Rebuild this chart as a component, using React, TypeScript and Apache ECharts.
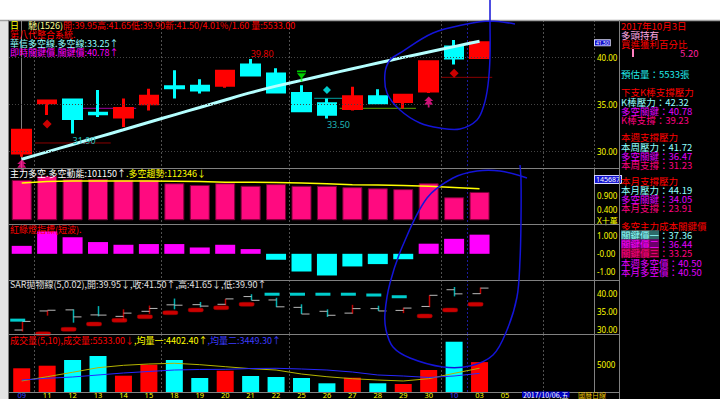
import React, { useEffect, useRef } from 'react';
import * as echarts from 'echarts';

// ---------------- data ----------------
const dates = ['09', '11', '12', '13', '14', '15', '18', '19', '20', '21', '22', '25', '26', '27', '28', '29', '30', '10', '03', '05', '', '', ''];
const openPrice = [29.85, 35.15, 35.45, 34.05, 33.65, 35.05, 36.85, 36.9, 37.0, 39.15, 38.2, 36.15, 35.05, 34.55, 35.8, 35.3, 36.4, 41.05, 39.95];
const closePrice = [32.25, 35.35, 33.5, 34.0, 34.55, 35.85, 36.75, 36.5, 38.5, 38.1, 36.3, 34.3, 33.95, 35.8, 35.15, 35.95, 39.5, 39.9, 41.5];
const lowPrice = [29.45, 33.85, 31.9, 33.65, 32.6, 34.35, 35.6, 36.15, 36.75, 38.1, 36.2, 34.3, 33.5, 34.35, 35.15, 34.55, 36.2, 39.2, 39.9];
const highPrice = [32.25, 35.35, 35.6, 36.5, 35.6, 36.65, 38.6, 37.65, 38.5, 39.8, 38.8, 37.0, 35.6, 36.85, 36.6, 36.05, 39.5, 41.8, 41.65];
const longShortLine = [29.17, 29.96, 30.74, 31.52, 32.3, 33.09, 33.88, 34.66, 35.45, 36.23, 36.92, 37.53, 38.15, 38.76, 39.37, 39.96, 40.53, 41.1, 41.67];

const buyArrows = [[0, 28.57], [16, 35.24]];
const redDiamonds = [[1, 32.91], [17, 38.28]];
const greenTriangles = [[11, 37.99]];
const cyanDiamonds = [[12, 36.51]];
const supportRed1 = [[0.52, 30.9], [3.5, 30.9]];
const supportPurple = [[2.3, 34.57], [4.5, 34.57]];
const supportTeal = [[11.5, 35.63], [13.3, 35.63]];
const supportGreen = [[12.5, 34.57], [15.5, 34.57]];
const supportRed2 = [[16.5, 37.85], [18.5, 37.85]];
const lowLabels = [[2, 31.9], [12, 33.5]];
const highLabels = [[9, 39.8]];

const mainPowerBars = [1.44, 1.58, 1.47, 1.47, 1.44, 1.44, 1.32, 1.26, 1.32, 1.23, 1.29, 1.23, 1.23, 1.18, 1.14, 1.11, 1.32, 0.82, 1.01];
const mainTrendLine = [1.33, 1.38, 1.4, 1.4, 1.4, 1.4, 1.39, 1.38, 1.36, 1.36, 1.35, 1.33, 1.3, 1.27, 1.26, 1.24, 1.21, 1.17, 1.12];
const trendMarker = 1.45687;

const trafficLight = [0.44, 1.24, 0.91, 0.65, 0.5, 0.54, 0.54, 0.35, 0.5, 0.26, -0.33, -0.98, -1.2, -0.7, -0.57, -0.3, 0.56, 0.83, 1.06];

const sarValues = [32.6, 28.8, 30.05, 31.5, 32.55, 33.55, 34.67, 35.4, 36.05, 37.0, 39.8, 39.8, 39.8, 39.8, 39.58, 39.1, 33.75, 35.4, 37.0];
const sarRising = [false, true, true, true, true, true, true, true, true, true, false, false, false, false, false, false, true, true, true];

const volumes = [4390, 4870, 5930, 6670, 3020, 5060, 5930, 2590, 3940, 2960, 2780, 2590, 1610, 2650, 1610, 1480, 4070, 9310, 5533];
const volMa5 = [2040, 2830, 3650, 4500, 4940, 5190, 5320, 5060, 4690, 4320, 4070, 3330, 2830, 2460, 2220, 2040, 2460, 3460, 4402];
const volMa10 = [2220, 2540, 2780, 3150, 3520, 3800, 4070, 4170, 4200, 4350, 4390, 4260, 4070, 3700, 3150, 2960, 2690, 2960, 3449];

const priceTicks = [30, 35, 40];
const powerTicks = [0, 0.4, 0.9];
const lightTicks = [-1, 0, 1];
const volumeTicks = [5000];
const lastClose = 41.5;
const weekBreaks = [1, 6, 11, 17, 18, 21];

// ---------------- helpers ----------------
const FONT = '"Noto Sans CJK TC", "Noto Sans", sans-serif';
const AX_FONT = '"Noto Sans", "Noto Sans CJK TC", sans-serif';
const near = (a: number, b: number) => Math.abs(a - b) < 1e-6;
const GL = 9;
const GW = 585;

const txt = (x: number, y: number, text: string, fill: string, size = 9, extra: any = {}) => ({
  type: 'text',
  x,
  y,
  z: 100,
  silent: true,
  style: { text, fill, fontSize: size, lineHeight: 9, fontFamily: FONT, verticalAlign: 'middle', align: 'left', ...extra },
});

const rich = (x: number, y: number, text: string, parts: Record<string, any>, size = 9) => {
  const r: Record<string, any> = {};
  Object.keys(parts).forEach((k) => {
    r[k] = { fontSize: size, lineHeight: 9, fontFamily: FONT, ...parts[k] };
  });
  return {
    type: 'text',
    x,
    y,
    z: 100,
    silent: true,
    style: { text, fontSize: size, lineHeight: 9, fontFamily: FONT, verticalAlign: 'middle', align: 'left', rich: r },
  };
};

const hline = (x1: number, x2: number, y: number, stroke = '#808080', w = 1) => ({
  type: 'line',
  z: 90,
  silent: true,
  shape: { x1, y1: y, x2, y2: y },
  style: { stroke, lineWidth: w },
});
const vline = (x: number, y1: number, y2: number, stroke = '#808080', w = 1) => ({
  type: 'line',
  z: 90,
  silent: true,
  shape: { x1: x, y1, x2: x, y2 },
  style: { stroke, lineWidth: w },
});

export default function App() {
  const ref = useRef<HTMLDivElement>(null);

  useEffect(() => {
    const chart = echarts.init(ref.current!, null, { renderer: 'svg' });

    const gridLineColors = weekBreaks.map((b) => (b === 18 ? '#1c1c9a' : '#505050'));
    const mkX = (gi: number) => ({
      type: 'category',
      gridIndex: gi,
      data: dates,
      boundaryGap: true,
      axisLine: { show: gi === 4, onZero: false, lineStyle: { color: '#808080' } },
      axisTick: { show: false },
      axisLabel:
        gi === 4
          ? {
              show: true,
              interval: 0,
              margin: 0,
              fontSize: 7.5,
              lineHeight: 5,
              fontFamily: AX_FONT,
              color: (v: string) => (v === '09' || v === '10' ? '#3c3cff' : '#ffff00'),
            }
          : { show: false },
      splitLine: {
        show: true,
        interval: (i: number) => weekBreaks.indexOf(i) >= 0,
        lineStyle: { color: gridLineColors, type: [2, 2], width: 1 },
      },
    });

    const mkY = (gi: number, min: number, max: number, ticks: number[], fmt: (v: number) => string) => ({
      type: 'value',
      gridIndex: gi,
      position: 'right',
      min,
      max,
      axisLine: { show: true, lineStyle: { color: '#808080' } },
      axisTick: { show: false },
      splitLine: { show: false },
      axisLabel: {
        show: true,
        customValues: ticks,
        margin: 3,
        fontSize: 8,
        fontFamily: AX_FONT,
        color: '#ffff00',
        formatter: (v: number) => (ticks.some((t) => near(t, v)) ? fmt(v) : ''),
      },
    });

    const mkMarkerY = (gi: number, min: number, max: number, value: number, text: string, size: number) => ({
      type: 'value',
      gridIndex: gi,
      position: 'right',
      min,
      max,
      axisLine: { show: false },
      axisTick: { show: false },
      splitLine: { show: false },
      axisLabel: {
        show: true,
        customValues: [value],
        margin: 1,
        fontSize: size,
        lineHeight: size,
        fontFamily: AX_FONT,
        color: '#ffffff',
        backgroundColor: '#1010d0',
        borderColor: '#d8d8ff',
        borderWidth: 1,
        padding: [0, 1],
        formatter: (v: number) => (near(v, value) ? text : ''),
      },
    });

    const candleData = openPrice.map((o, i) => [o, closePrice[i], lowPrice[i], highPrice[i]]);
    const ohlcData = openPrice.map((o, i) => [i, o, closePrice[i], lowPrice[i], highPrice[i]]);
    const sarUpData = sarValues.map((v, i) => (sarRising[i] ? [i, v] : null)).filter(Boolean);
    const sarDownData = sarValues.map((v, i) => (!sarRising[i] ? [i, v] : null)).filter(Boolean);
    const upColor = (i: number) => closePrice[i] >= openPrice[i];

    const hiddenLine = (data: number[][], color: string, extra: any = {}) => ({
      type: 'line',
      xAxisIndex: 5,
      yAxisIndex: 0,
      data,
      symbol: 'none',
      silent: true,
      lineStyle: { color, width: 1 },
      z: 1,
      ...extra,
    });

    const option: any = {
      animation: false,
      backgroundColor: '#000000',
      grid: [
        { left: GL, width: GW, top: 20, height: 148 },
        { left: GL, width: GW, top: 168, height: 56 },
        { left: GL, width: GW, top: 224, height: 56 },
        { left: GL, width: GW, top: 280, height: 54 },
        { left: GL, width: GW, top: 334, height: 58 },
      ],
      xAxis: [mkX(0), mkX(1), mkX(2), mkX(3), mkX(4), { type: 'value', gridIndex: 0, min: -0.5, max: 22.5, show: false }],
      yAxis: [
        mkY(0, 28.25, 43.92, priceTicks, (v) => v.toFixed(2)),
        mkY(1, -0.135, 1.865, powerTicks, (v) => (near(v, 0) ? 'X十萬' : v.toFixed(3))),
        mkY(2, -1.45, 1.65, lightTicks, (v) => (near(v, 1) ? '1.000' : near(v, 0) ? '-0.00' : '-1.00')),
        mkY(3, 28.75, 43.75, priceTicks, (v) => v.toFixed(2)),
        mkY(4, 0, 10740, volumeTicks, (v) => String(v)),
        mkMarkerY(0, 28.25, 43.92, lastClose, lastClose.toFixed(2), 5),
        mkMarkerY(1, -0.135, 1.865, trendMarker, String(Math.round(trendMarker * 100000)), 7),
      ],
      series: [
        hiddenLine(supportRed1, '#8a0000', {
          markLine: {
            silent: true,
            symbol: ['none', 'none'],
            label: { show: false },
            lineStyle: { color: '#444444', type: [1, 2], width: 1 },
            data: priceTicks.map((v) => ({ yAxis: v })),
          },
        }),
        hiddenLine(supportPurple, '#a000a0'),
        hiddenLine(supportTeal, '#00a0a0'),
        hiddenLine(supportGreen, '#60a000'),
        hiddenLine(supportRed2, '#8a0000'),
        {
          type: 'candlestick',
          xAxisIndex: 0,
          yAxisIndex: 0,
          barWidth: 18,
          data: candleData,
          itemStyle: {
            color: '#ff0000',
            color0: '#00ffff',
            borderColor: '#ff0000',
            borderColor0: '#00ffff',
            borderWidth: 3,
          },
          markPoint: {
            silent: true,
            symbol: 'circle',
            symbolSize: 1,
            itemStyle: { color: 'rgba(0,0,0,0)' },
            data: [
              ...lowLabels.map((p) => ({
                coord: p,
                label: {
                  show: true,
                  position: 'inside',
                  formatter: p[1].toFixed(2),
                  color: '#20b8b8',
                  fontSize: 9,
                  fontFamily: AX_FONT,
                  align: 'left',
                  verticalAlign: 'top',
                  offset: [0, 2],
                },
              })),
              ...highLabels.map((p) => ({
                coord: p,
                label: {
                  show: true,
                  position: 'inside',
                  formatter: p[1].toFixed(2),
                  color: '#e00000',
                  fontSize: 9,
                  fontFamily: AX_FONT,
                  align: 'left',
                  verticalAlign: 'bottom',
                  offset: [0, -1],
                },
              })),
            ],
          },
        },
        {
          type: 'line',
          xAxisIndex: 0,
          yAxisIndex: 0,
          data: longShortLine,
          symbol: 'none',
          smooth: 0.2,
          silent: true,
          lineStyle: { color: '#b4ffff', width: 3 },
          z: 3,
        },
        {
          type: 'scatter',
          xAxisIndex: 0,
          yAxisIndex: 0,
          data: buyArrows,
          symbol: 'path://M5 0 L10 5 L7 5 L10 9 L6 9 L6 12 L4 12 L4 9 L0 9 L3 5 L0 5 Z',
          symbolSize: [9, 11],
          itemStyle: { color: '#ff1493' },
          silent: true,
          z: 4,
        },
        {
          type: 'scatter',
          xAxisIndex: 0,
          yAxisIndex: 0,
          data: redDiamonds,
          symbol: 'diamond',
          symbolSize: 9,
          itemStyle: { color: '#ff0000' },
          silent: true,
          z: 4,
        },
        {
          type: 'scatter',
          xAxisIndex: 0,
          yAxisIndex: 0,
          data: greenTriangles,
          symbol: 'path://M0 0 L10 0 L10 2 L0 2 Z M0 3 L10 3 L5 9 Z M4 8 L6 8 L6 12 L4 12 Z',
          symbolSize: [9, 11],
          itemStyle: { color: '#00ff00' },
          silent: true,
          z: 4,
        },
        {
          type: 'scatter',
          xAxisIndex: 0,
          yAxisIndex: 0,
          data: cyanDiamonds,
          symbol: 'diamond',
          symbolSize: 8,
          itemStyle: { color: '#00ffff' },
          silent: true,
          z: 4,
        },
        // panel 2
        {
          type: 'bar',
          xAxisIndex: 1,
          yAxisIndex: 1,
          data: mainPowerBars,
          barWidth: 20,
          silent: true,
          itemStyle: { color: '#ff0a80', borderColor: '#7a0038', borderWidth: 1 },
        },
        {
          type: 'line',
          xAxisIndex: 1,
          yAxisIndex: 1,
          data: mainTrendLine,
          symbol: 'none',
          silent: true,
          lineStyle: { color: '#ffff00', width: 1.5 },
          z: 3,
        },
        // panel 3
        {
          type: 'bar',
          xAxisIndex: 2,
          yAxisIndex: 2,
          data: trafficLight,
          barWidth: 20,
          silent: true,
          itemStyle: { color: (p: any) => (p.value >= 0 ? '#ff00ff' : '#00ffff') },
        },
        // panel 4 SAR
        {
          type: 'custom',
          xAxisIndex: 3,
          yAxisIndex: 3,
          data: ohlcData,
          silent: true,
          encode: { x: 0, y: [1, 2, 3, 4] },
          renderItem: (_p: any, api: any) => {
            const i = api.value(0);
            const o = api.coord([i, api.value(1)]);
            const c = api.coord([i, api.value(2)]);
            const l = api.coord([i, api.value(3)]);
            const h = api.coord([i, api.value(4)]);
            const x = Math.round(o[0]) + 0.5;
            const up = api.value(2) >= api.value(1);
            return {
              type: 'group',
              children: [
                { type: 'line', shape: { x1: x, y1: h[1], x2: x, y2: l[1] }, style: { stroke: up ? '#c00000' : '#00b0b0', lineWidth: 1.5 } },
                { type: 'line', shape: { x1: x - 8, y1: o[1], x2: x, y2: o[1] }, style: { stroke: '#b8b8b8', lineWidth: 1 } },
                { type: 'line', shape: { x1: x, y1: c[1], x2: x + 8, y2: c[1] }, style: { stroke: '#b8b8b8', lineWidth: 1 } },
              ],
            };
          },
        },
        {
          type: 'scatter',
          xAxisIndex: 3,
          yAxisIndex: 3,
          data: sarUpData,
          symbol: 'roundRect',
          symbolSize: [15, 4],
          symbolOffset: [-4, 0],
          silent: true,
          itemStyle: { color: '#ff0000', borderColor: '#900000', borderWidth: 0.5 },
        },
        {
          type: 'scatter',
          xAxisIndex: 3,
          yAxisIndex: 3,
          data: sarDownData,
          symbol: 'rect',
          symbolSize: [15, 3],
          symbolOffset: [-4, 0],
          silent: true,
          itemStyle: { color: '#00ffff' },
        },
        // panel 5 volume
        {
          type: 'bar',
          xAxisIndex: 4,
          yAxisIndex: 4,
          data: volumes,
          barWidth: 17,
          silent: true,
          itemStyle: { color: (p: any) => (upColor(p.dataIndex) ? '#ff0000' : '#00ffff') },
        },
        {
          type: 'line',
          xAxisIndex: 4,
          yAxisIndex: 4,
          data: volMa5,
          symbol: 'none',
          silent: true,
          lineStyle: { color: '#b4b400', width: 1 },
          z: 3,
        },
        {
          type: 'line',
          xAxisIndex: 4,
          yAxisIndex: 4,
          data: volMa10,
          symbol: 'none',
          silent: true,
          lineStyle: { color: '#2828ff', width: 1 },
          z: 3,
        },
      ],
      graphic: [
        // frame
        { type: 'rect', z: 80, silent: true, shape: { x: 0, y: 0, width: 720, height: 20 }, style: { fill: '#ffffff' } },
        { type: 'rect', z: 80, silent: true, shape: { x: 0, y: 20, width: 8, height: 379 }, style: { fill: '#e4e4e4' } },
        hline(0, 720, 20.5, '#a0a0a0', 1.5),
        vline(8.5, 20, 399, '#808080'),
        vline(619.5, 20, 399, '#808080'),
        hline(8, 619, 168.5),
        hline(8, 619, 224.5),
        hline(8, 619, 280.5),
        hline(8, 619, 334.5),
        hline(8, 619, 392.5),
        // hand-drawn pen strokes
        {
          type: 'polyline',
          z: 95,
          silent: true,
          shape: {
            points: [[515, 24], [490, 21], [467, 24], [433, 33], [400, 53], [390, 60], [385, 73], [387, 93], [400, 110], [420, 123], [440, 128], [460, 129], [477, 120], [484, 105], [488, 85], [490, 57], [490, 20], [490, 0]],
            smooth: 0.35,
          },
          style: { stroke: '#1414d8', lineWidth: 1.5, fill: null },
        },
        {
          type: 'polyline',
          z: 95,
          silent: true,
          shape: {
            points: [[527, 178], [500, 171], [477, 171], [453, 178], [427, 198], [403, 245], [390, 283], [385, 313], [386, 330], [393, 347], [410, 358], [443, 367], [470, 366], [493, 355], [507, 330], [517, 297], [520, 260], [521, 220], [521, 180], [520, 165]],
            smooth: 0.35,
          },
          style: { stroke: '#1414d8', lineWidth: 1.5, fill: null },
        },
        // main headers
        rich(10, 25, '{y|日}{w|　馳(1526)}{r|開:39.95高:41.65低:39.90新:41.50/4.01%/1.60 量:5533.00}', {
          y: { fill: '#ffff00' },
          w: { fill: '#ffff90' },
          r: { fill: '#ff0000' },
        }),
        txt(10, 34, '第八代整合系統.', '#ff0000'),
        txt(10, 43, '華信多空線.多空線:33.25↑', '#90ffff'),
        txt(10, 52, '即時關鍵價.關鍵價:40.78↑', '#ff00ff'),
        rich(10, 173, '{w|主力多空.多空動能:101150↑}{y|.多空趨勢:112346↓}', {
          w: { fill: '#ffffff' },
          y: { fill: '#ffff00' },
        }),
        txt(10, 229, '紅綠燈指標(短波).', '#ff0000'),
        txt(10, 284, 'SAR拋物線(5,0.02),開:39.95↓,收:41.50↑,高:41.65↓,低:39.90↑', '#e0e0e0'),
        rich(10, 340, '{r|成交量(5,10),成交量:5533.00↓}{y|,均量一:4402.40↑}{b|,均量二:3449.30↑}', {
          r: { fill: '#ff0000' },
          y: { fill: '#ffff00' },
          b: { fill: '#3c3cff' },
        }),
        // right info panel
        txt(621, 26, '2017年10月3日', '#ff0000', 9.5),
        txt(621, 35, '多頭持有', '#ffa8e0', 9.5),
        txt(621, 44, '買進獲利百分比', '#ff0000', 9.5),
        { type: 'rect', z: 100, silent: true, shape: { x: 632, y: 49, width: 2, height: 8 }, style: { fill: '#ff80c0' } },
        txt(680, 53, '5.20', '#ff20a0', 9.5),
        txt(621, 74, '預估量：5533張', '#20e8e8', 9.5),
        txt(621, 92, '下支K棒支撐壓力', '#ff0000', 9.5),
        txt(621, 102, 'K棒壓力：42.32', '#90ffff', 9.5),
        txt(621, 111, '多空關鍵：40.78', '#e000ff', 9.5),
        txt(621, 120, 'K棒支撐：39.23', '#ff0080', 9.5),
        txt(621, 137, '本週支撐壓力', '#ff0000', 9.5),
        txt(621, 147, '本周壓力：41.72', '#90ffff', 9.5),
        txt(621, 156, '多空關鍵：36.47', '#e000ff', 9.5),
        txt(621, 165, '本周支撐：31.23', '#ff0080', 9.5),
        txt(621, 181, '本月支撐壓力', '#ff0000', 9.5),
        txt(621, 190, '本月壓力：44.19', '#90ffff', 9.5),
        txt(621, 199, '多空關鍵：34.05', '#e000ff', 9.5),
        txt(621, 208, '本月支撐：23.91', '#ff0080', 9.5),
        txt(621, 226, '多空主力成本關鍵價', '#ff0000', 9.5),
        rich(621, 235, '{h|關鍵價一}{v|：37.36}', { h: { fill: '#90ffff', backgroundColor: '#2e6a6a' }, v: { fill: '#90ffff' } }, 9.5),
        rich(621, 244, '{h|關鍵價二}{v|：36.44}', { h: { fill: '#ff00ff', backgroundColor: '#6a006a' }, v: { fill: '#e000ff' } }, 9.5),
        rich(621, 253, '{h|關鍵價三}{v|：33.25}', { h: { fill: '#ff0080', backgroundColor: '#6a0030' }, v: { fill: '#ff0080' } }, 9.5),
        txt(621, 263, '本週多空價：40.50', '#e000ff', 9.5),
        txt(621, 272, '本月多空價：40.50', '#e000ff', 9.5),
        // bottom status
        txt(522, 394.5, '2017/10/06,五', '#ffffff', 7, { lineHeight: 6, backgroundColor: '#0000c0', padding: [0, 1] }),
        txt(578, 394.5, '國曆日線', '#e8c000', 7, { lineHeight: 6 }),
      ],
    };

    chart.setOption(option);
    return () => chart.dispose();
  }, []);

  return <div ref={ref} style={{ position: 'absolute', left: 0, top: 0, width: 720, height: 399 }} />;
}
